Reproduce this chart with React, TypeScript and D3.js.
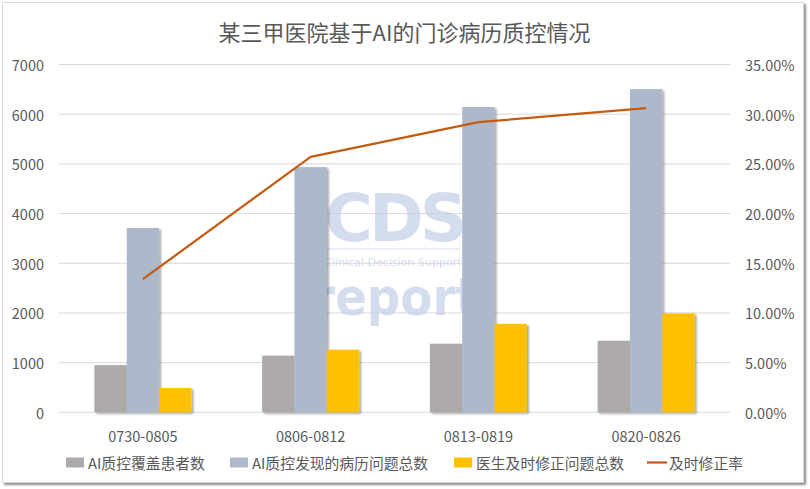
import React from "react";
import * as d3 from "d3";

const title = "某三甲医院基于AI的门诊病历质控情况";
const categories = ["0730-0805", "0806-0812", "0813-0819", "0820-0826"];
const seriesNames = ["AI质控覆盖患者数", "AI质控发现的病历问题总数", "医生及时修正问题总数"];
const coveredPatients = [950, 1140, 1380, 1440];
const problemsFound = [3710, 4935, 6145, 6505];
const problemsFixed = [490, 1260, 1780, 1990];
const lineName = "及时修正率";
const fixRate = [0.134, 0.257, 0.292, 0.306];
const leftTicks = [0, 1000, 2000, 3000, 4000, 5000, 6000, 7000];
const rightTicks = [0, 0.05, 0.1, 0.15, 0.2, 0.25, 0.3, 0.35];

const barColors = ["#AEAAAA", "#ADB9CA", "#FFC000"];
const lineColor = "#C55A11";
const textColor = "#595959";
const font = "'Noto Sans CJK SC', 'Noto Sans', sans-serif";

export default function App() {
  const W = 810, H = 489;
  const plotL = 59, plotR = 730, plotT = 64.5, plotB = 412.3;
  const x = d3.scaleBand<string>().domain(categories).range([plotL, plotR]).padding(0);
  const xi = d3.scaleBand<number>().domain([0, 1, 2]).range([0, x.bandwidth()]).paddingInner(0).paddingOuter(1.094);
  const yL = d3.scaleLinear().domain([0, 7000]).range([plotB, plotT]);
  const yR = d3.scaleLinear().domain([0, 0.35]).range([plotB, plotT]);
  const series = [coveredPatients, problemsFound, problemsFixed];
  const line = d3.line<number>()
    .x((_, i) => (x(categories[i]) as number) + x.bandwidth() / 2)
    .y((d) => yR(d));
  const pct = d3.format(".2%");

  const legendItems = [
    { type: "rect", color: barColors[0], label: seriesNames[0], x: 66 },
    { type: "rect", color: barColors[1], label: seriesNames[1], x: 230 },
    { type: "rect", color: barColors[2], label: seriesNames[2], x: 454 },
    { type: "line", color: lineColor, label: lineName, x: 647 },
  ];
  const legendY = 462.5;

  return (
    <svg width={W} height={H} style={{ position: "absolute", left: 0, top: 0, fontFamily: font }}>
      <defs>
        <filter id="barShadow" x="-20%" y="-20%" width="160%" height="140%">
          <feDropShadow dx="2" dy="1.5" stdDeviation="1.3" floodColor="#000" floodOpacity="0.35" />
        </filter>
        <filter id="boxShadow" x="-5%" y="-5%" width="110%" height="110%">
          <feDropShadow dx="2" dy="2" stdDeviation="1.2" floodColor="#000" floodOpacity="0.45" />
        </filter>
      </defs>
      <rect x={0} y={0} width={W} height={H} fill="#fff" />
      <rect x={2.5} y={2.5} width={801} height={480} fill="#fff" stroke="#D9D9D9" strokeWidth={1} filter="url(#boxShadow)" />

      <text x={404.5} y={31} textAnchor="middle" dominantBaseline="central" fontSize={22} fill={textColor}>
        {title}
      </text>

      {leftTicks.map((t) => (
        <g key={"g" + t}>
          <line x1={plotL} x2={plotR} y1={yL(t)} y2={yL(t)} stroke="#D9D9D9" strokeWidth={1} />
          <text x={44} y={yL(t)} textAnchor="end" dominantBaseline="central" fontSize={14.5} fill={textColor}>
            {t}
          </text>
        </g>
      ))}
      {rightTicks.map((t) => (
        <text key={"r" + t} x={745} y={yR(t)} textAnchor="start" dominantBaseline="central" fontSize={14.5} fill={textColor}>
          {pct(t)}
        </text>
      ))}

      <g opacity={0.7} fill="#C3CFE8" fontFamily="'DejaVu Sans', sans-serif" fontWeight="bold">
        <text x={394} y={218} textAnchor="middle" dominantBaseline="central" fontSize={66} letterSpacing={-4}>
          CDS
        </text>
        <line x1={327} x2={460} y1={249} y2={249} stroke="#C3CFE8" strokeWidth={1} />
        <text x={393} y={262} textAnchor="middle" dominantBaseline="central" fontSize={11} fontWeight="normal">
          Clinical Decision Support
        </text>
        <text x={395} y={297} textAnchor="middle" dominantBaseline="central" fontSize={52} fontFamily="'Liberation Sans Narrow', 'DejaVu Sans Condensed', sans-serif">
          report
        </text>
      </g>

      {categories.map((c, ci) => (
        <g key={c}>
          {series.map((s, si) => (
            <rect
              key={si}
              x={(x(c) as number) + (xi(si) as number)}
              y={yL(s[ci])}
              width={xi.bandwidth()}
              height={plotB - yL(s[ci])}
              fill={barColors[si]}
              filter="url(#barShadow)"
            />
          ))}
          <text x={(x(c) as number) + x.bandwidth() / 2} y={435} textAnchor="middle" dominantBaseline="central" fontSize={14.5} fill={textColor}>
            {c}
          </text>
        </g>
      ))}

      <path d={line(fixRate) || ""} fill="none" stroke={lineColor} strokeWidth={2.25} strokeLinejoin="round" />

      {legendItems.map((it) => (
        <g key={it.label}>
          {it.type === "rect" ? (
            <rect x={it.x} y={legendY - 5} width={18} height={10} fill={it.color} />
          ) : (
            <line x1={it.x} x2={it.x + 20} y1={legendY} y2={legendY} stroke={it.color} strokeWidth={2.25} />
          )}
          <text x={it.x + 22} y={legendY} dominantBaseline="central" fontSize={14.8} fill={textColor}>
            {it.label}
          </text>
        </g>
      ))}
    </svg>
  );
}
